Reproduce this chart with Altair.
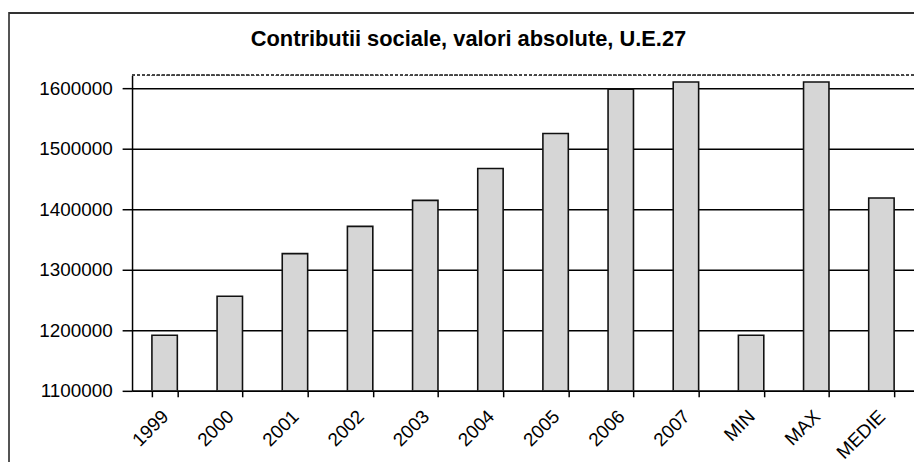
import altair as alt
import pandas as pd

categories = ["1999", "2000", "2001", "2002", "2003", "2004", "2005", "2006", "2007", "MIN", "MAX", "MEDIE"]
values = [1192000, 1256500, 1327000, 1372000, 1415000, 1467700, 1525600, 1599000, 1610800, 1192000, 1610800, 1419000]
y_ticks = [1100000, 1200000, 1300000, 1400000, 1500000, 1600000]
title_text = "Contributii sociale, valori absolute, U.E.27"

df = pd.DataFrame({"cat": categories, "val": values})

FONT = "Liberation Sans"
W, H = 788, 318

bars = alt.Chart(df).mark_bar(
    fill="#d6d6d6", stroke="#111111", strokeWidth=1.6, clip=True
).encode(
    x=alt.X("cat:N", sort=categories,
            scale=alt.Scale(paddingInner=0.61, paddingOuter=0.305),
            axis=alt.Axis(title=None, labelAngle=-45, labelFontSize=19, labelFont=FONT,
                          labelColor="#000", labelAlign="right", labelBaseline="top",
                          labelPadding=10, labelOffset=-6, tickBand="extent", tickSize=6,
                          tickColor="#000", tickWidth=1.5, domainColor="#000",
                          domainWidth=1.5, grid=False)),
    y=alt.Y("val:Q",
            scale=alt.Scale(domain=[1100000, 1622000], zero=False, nice=False),
            axis=alt.Axis(title=None, values=y_ticks, format="d", labelFontSize=19,
                          labelFont=FONT, labelColor="#000", labelPadding=10,
                          tickSize=10, tickColor="#000", tickWidth=1.5,
                          domainColor="#000", domainWidth=1.5,
                          grid=True, gridColor="#000", gridWidth=1.5)),
    y2=alt.datum(1100000),
)

top_border = alt.Chart(df).mark_rule(color="#444", strokeWidth=1.2, strokeDash=[3, 2]).encode(
    x=alt.value(0), x2=alt.value(W), y=alt.value(0)
)

frame_left = alt.Chart(df).mark_rule(color="#555", strokeWidth=1.5, clip=False).encode(
    x=alt.value(-124), y=alt.value(-63), y2=alt.value(400)
)
frame_top = alt.Chart(df).mark_rule(color="#333", strokeWidth=1.5, clip=False).encode(
    x=alt.value(-124), x2=alt.value(W + 10), y=alt.value(-63)
)

chart = alt.layer(bars, top_border, frame_left, frame_top).properties(
    width=W, height=H,
    title=alt.TitleParams(title_text, font=FONT, fontSize=22, fontWeight="bold",
                          color="#000", anchor="middle", baseline="bottom",
                          dx=-55, offset=-61),
    autosize=alt.AutoSizeParams(type="none"),
    padding={"left": 125, "top": 66, "right": 0, "bottom": 80},
).configure_view(stroke=None)

chart.save("out.html", embed_options={"renderer": "svg", "actions": False})
